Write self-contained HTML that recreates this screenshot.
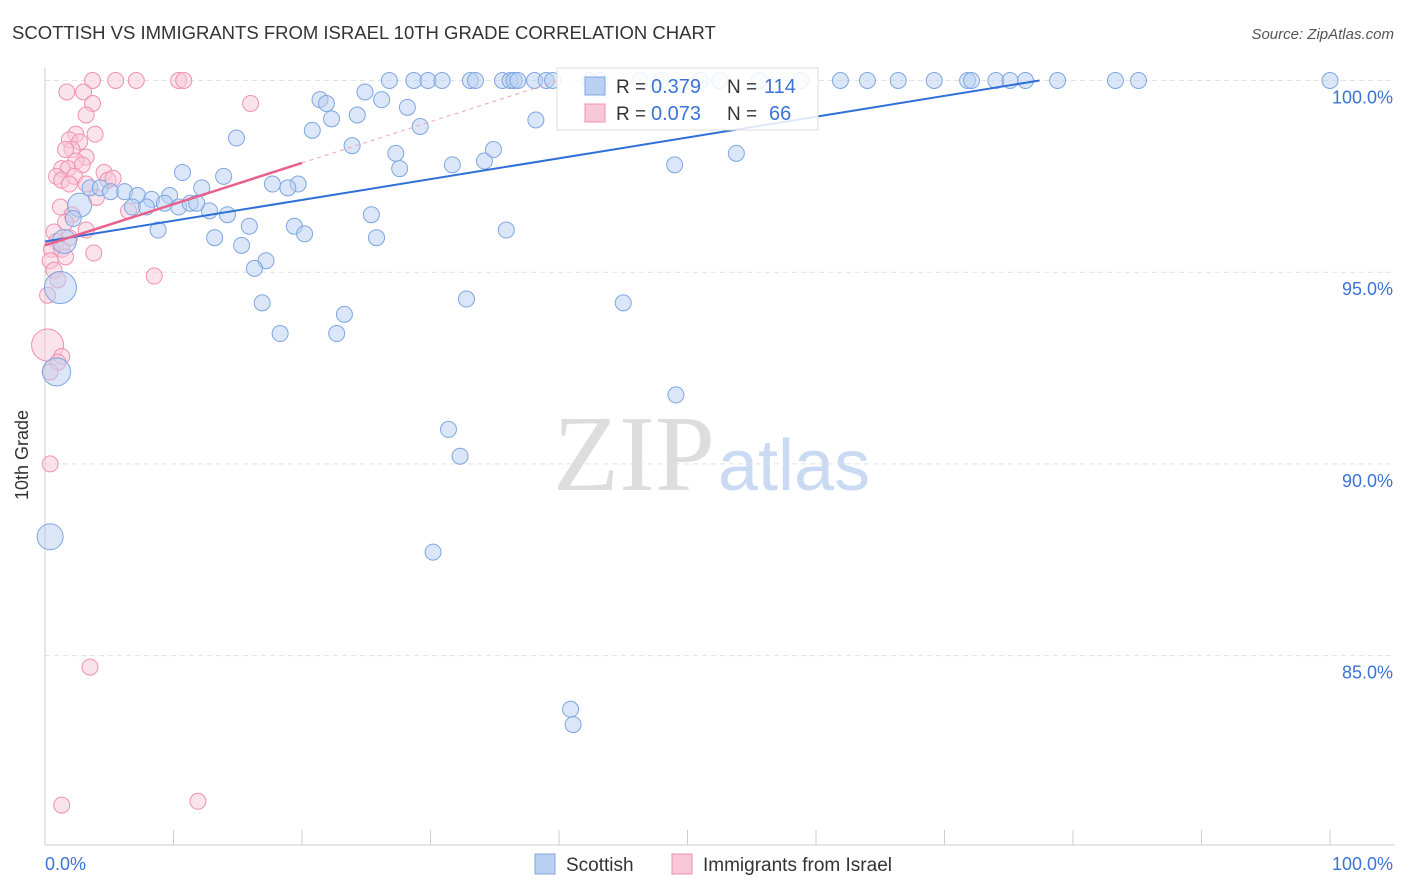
<!DOCTYPE html>
<html><head><meta charset="utf-8"><style>
body{margin:0;background:#fff;font-family:"Liberation Sans",sans-serif;}
#wrap{position:relative;width:1406px;height:892px;overflow:hidden;}
</style></head><body>
<div id="wrap">
<svg id="svg" width="1406" height="892" xmlns="http://www.w3.org/2000/svg">
<text x="12" y="39" font-size="18.5" fill="#333">SCOTTISH VS IMMIGRANTS FROM ISRAEL 10TH GRADE CORRELATION CHART</text>
<text x="1394" y="39" font-size="15" fill="#555" text-anchor="end" font-style="italic">Source: ZipAtlas.com</text>
<text x="28" y="455" font-size="18" fill="#333" text-anchor="middle" transform="rotate(-90 28 455)">10th Grade</text>
<text x="553" y="490" font-size="108" fill="#ddd" font-family="Liberation Serif,serif">ZIP</text>
<text x="718" y="490" font-size="72" fill="#c9daf2">atlas</text>
<g id="grid"></g><g id="pts"></g><g id="lines"></g>
<g>
<rect x="557" y="68" width="261" height="62" fill="#fff" fill-opacity="0.85" stroke="#ddd"/>
<rect x="585" y="77" width="20" height="18" fill="#b8d0f2" stroke="#7ea6e0"/>
<rect x="585" y="104" width="20" height="18" fill="#f8c8d8" stroke="#f090b0"/>
<text x="616" y="93" font-size="19" fill="#333">R =</text>
<text x="651" y="93" font-size="20" fill="#3b73d6">0.379</text>
<text x="727" y="93" font-size="19" fill="#333">N =</text>
<text x="764" y="93" font-size="20" fill="#3b73d6">114</text>
<text x="616" y="120" font-size="19" fill="#333">R =</text>
<text x="651" y="120" font-size="20" fill="#3b73d6">0.073</text>
<text x="727" y="120" font-size="19" fill="#333">N =</text>
<text x="769" y="120" font-size="20" fill="#3b73d6">66</text>
</g>
<g>
<rect x="535" y="854" width="20" height="20" fill="#b8d0f2" stroke="#7ea6e0"/>
<text x="566" y="871" font-size="19" fill="#333">Scottish</text>
<rect x="672" y="854" width="20" height="20" fill="#f8c8d8" stroke="#f090b0"/>
<text x="703" y="871" font-size="19" fill="#333">Immigrants from Israel</text>
</g>
</svg>
</div>
<script>
const yTicks=[100,95,90,85];
const xTickLabels=["0.0%","100.0%"];
const blueX=[26.8,28.7,29.8,30.9,33.1,33.5,35.6,36.2,36.5,36.8,38.1,39.0,39.5,42.4,43.2,46.3,47.9,51.0,52.5,55.6,58.8,61.9,64.0,66.4,69.2,71.8,72.1,74.0,75.1,76.3,78.8,83.3,85.1,100,
14.9,21.4,21.9,24.9,26.2,28.2,20.8,22.3,24.3,29.2,38.2,23.9,27.3,27.6,31.7,34.2,34.9,49.0,53.8,10.7,13.9,17.7,19.7,18.9,12.2,3.5,4.3,5.1,6.2,7.2,8.3,9.7,6.8,7.9,9.3,10.4,11.3,11.8,12.8,14.2,2.7,2.2,8.8,15.9,19.4,20.2,25.4,25.8,35.9,13.2,15.3,17.2,16.3,16.9,18.3,22.7,23.3,32.8,45.0,49.1,31.4,32.3,30.2,40.9,41.1,1.2,0.9,0.4,1.5];
const blueY=[100,100,100,100,100,100,100,100,100,100,100,100,100,100,100,100,100,100,100,100,100,100,100,100,100,100,100,100,100,100,100,100,100,100,
98.5,99.5,99.4,99.7,99.5,99.3,98.7,99.0,99.1,98.8,98.97,98.3,98.1,97.7,97.8,97.9,98.2,97.8,98.1,97.6,97.5,97.3,97.3,97.2,97.2,97.2,97.2,97.1,97.1,97.0,96.9,97.0,96.7,96.7,96.8,96.7,96.8,96.8,96.6,96.5,96.75,96.4,96.1,96.2,96.2,96.0,96.5,95.9,96.1,95.9,95.7,95.3,95.1,94.2,93.4,93.4,93.9,94.3,94.2,91.8,90.9,90.2,87.7,83.6,83.2,94.6,92.4,88.1,95.8];
const blueBig={74:12,99:16,100:14,101:13,102:12};
const pinkX=[3.7,5.5,7.1,10.4,10.8,1.7,3.0,3.7,16.0,3.2,3.9,2.4,1.9,2.7,2.1,1.6,3.2,2.4,1.3,1.8,2.9,4.6,0.9,1.3,2.3,1.9,3.2,4.9,5.3,4.0,1.2,2.1,6.5,1.6,3.2,0.7,0.9,1.9,0.5,1.3,3.8,1.6,0.4,0.7,1.0,8.5,0.2,0.2,1.3,1.0,0.4,0.4,3.5,1.3,11.9];
const pinkY=[100,100,100,100,100,99.7,99.7,99.4,99.4,99.1,98.6,98.6,98.45,98.4,98.2,98.2,98.0,97.9,97.7,97.7,97.8,97.6,97.5,97.4,97.5,97.3,97.3,97.4,97.45,96.95,96.7,96.5,96.6,96.3,96.1,96.05,95.8,95.9,95.6,95.6,95.5,95.4,95.3,95.05,94.8,94.9,94.4,93.1,92.8,92.65,92.4,90.0,84.7,81.1,81.2];
const pinkBig={47:16};
const blueTrend=[95.8,100,77.4];
const pinkTrend=[95.7,97.85,20];
const NS="http://www.w3.org/2000/svg";
const X=v=>45+v*12.85, Y=v=>80.5+(100-v)*38.34;
const g=document.getElementById('grid'),p=document.getElementById('pts'),l=document.getElementById('lines');
function mk(t,a,par){const e=document.createElementNS(NS,t);for(const k in a)e.setAttribute(k,a[k]);par.appendChild(e);return e;}
yTicks.forEach(t=>{
 const ln=mk('line',{x1:45,x2:1395,y1:Y(t),y2:Y(t),stroke:'#e2e2e2','stroke-dasharray':'5,4'},g);
 
 
 const tx=mk('text',{x:1393,y:Y(t)+23,'font-size':18,fill:'#3b73d6','text-anchor':'end'},g);tx.textContent=t.toFixed(1)+'%';
 
 
});
const ax=mk('line',{x1:45,x2:45,y1:68,y2:845,stroke:'#ccc'},g);


const bx=mk('line',{x1:45,x2:1395,y1:845,y2:845,stroke:'#ccc'},g);


for(let i=0;i<=10;i++){const t=mk('line',{x1:X(i*10),x2:X(i*10),y1:830,y2:845,stroke:'#ccc'},g);
 
 }
const xl0=mk('text',{x:45,y:870,'font-size':18,fill:'#3b73d6'},g);xl0.textContent=xTickLabels[0];


const xl1=mk('text',{x:1393,y:870,'font-size':18,fill:'#3b73d6','text-anchor':'end'},g);xl1.textContent=xTickLabels[1];


pinkX.forEach((v,i)=>{const c=mk('circle',{cx:X(v),cy:Y(pinkY[i]),r:pinkBig[i]||8,fill:'#f8c8d8','fill-opacity':0.5,stroke:'#f090b0','stroke-width':1},p);
 
 });
blueX.forEach((v,i)=>{const c=mk('circle',{cx:X(v),cy:Y(blueY[i]),r:blueBig[i]||8,fill:'#b8d0f2','fill-opacity':0.5,stroke:'#7ea6e0','stroke-width':1},p);
 
 });
const bt=mk('line',{x1:X(0),y1:Y(blueTrend[0]),x2:X(blueTrend[2]),y2:Y(blueTrend[1]),stroke:'#2f6fd8','stroke-width':2},l);


const slope=(pinkTrend[1]-pinkTrend[0])/pinkTrend[2];
const pd=mk('line',{x1:X(pinkTrend[2]),y1:Y(pinkTrend[1]),x2:X(pinkTrend[2]+(100-pinkTrend[1])/slope),y2:Y(100),stroke:'#f0a0bc','stroke-width':1,'stroke-dasharray':'4,4'},l);


const pt=mk('line',{x1:X(0),y1:Y(pinkTrend[0]),x2:X(pinkTrend[2]),y2:Y(pinkTrend[1]),stroke:'#e8608c','stroke-width':2.5},l);


</script>
</body></html>
